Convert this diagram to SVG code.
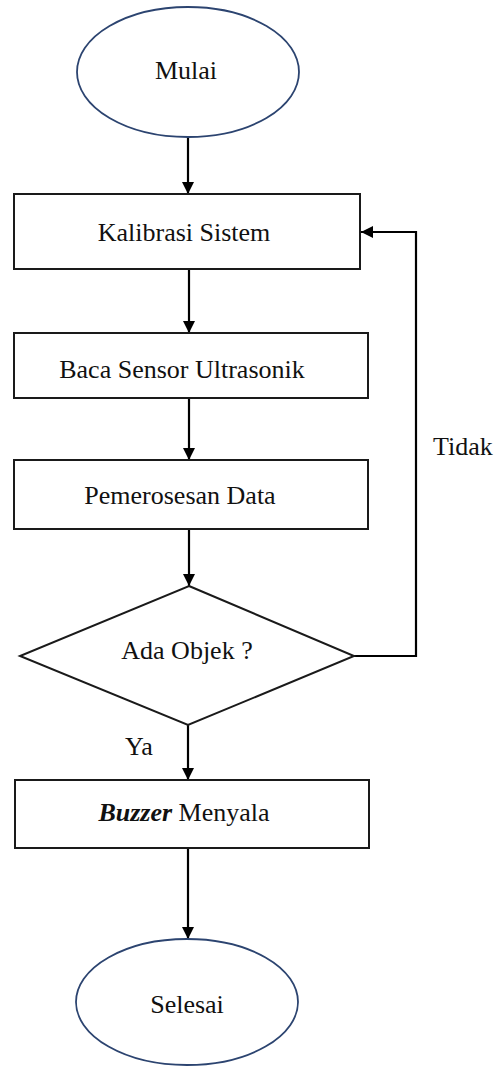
<svg xmlns="http://www.w3.org/2000/svg" width="494" height="1066" viewBox="0 0 494 1066">
<style>
.t{font-size:26px;fill:#111;text-anchor:middle}
.box{fill:#fff;stroke:#1a1a1a;stroke-width:2}
.ell{fill:#fff;stroke:#2c4470;stroke-width:1.8}
.c{fill:none;stroke:#000;stroke-width:2.2}
</style>
<defs>
<marker id="ah" markerUnits="userSpaceOnUse" markerWidth="12" markerHeight="12" refX="12" refY="6" orient="auto">
<path d="M0,0 L12,6 L0,12 z" fill="#000"/>
</marker>
</defs>
<rect width="494" height="1066" fill="#fff"/>
<g font-family="'Liberation Serif', 'DejaVu Serif', serif">
<g id="connectors">
<line class="c" x1="188" y1="137" x2="188" y2="194" marker-end="url(#ah)"/>
<line class="c" x1="189" y1="269" x2="189" y2="333" marker-end="url(#ah)"/>
<line class="c" x1="189" y1="398" x2="189" y2="460" marker-end="url(#ah)"/>
<line class="c" x1="189" y1="529" x2="189" y2="586" marker-end="url(#ah)"/>
<line class="c" x1="188" y1="725" x2="188" y2="780" marker-end="url(#ah)"/>
<line class="c" x1="188" y1="848" x2="188" y2="939" marker-end="url(#ah)"/>
<polyline class="c" points="354,656 416,656 416,232 361,232" marker-end="url(#ah)"/>
<text class="t" x="433" y="455" style="text-anchor:start">Tidak</text>
<text class="t" x="125" y="755" style="text-anchor:start">Ya</text>
</g>
<g id="mulai">
<ellipse class="ell" cx="188" cy="72" rx="111" ry="65"/>
<text class="t" x="186" y="79">Mulai</text>
</g>
<g id="kalibrasi">
<rect class="box" x="14" y="194" width="346" height="75"/>
<text class="t" x="184" y="241">Kalibrasi Sistem</text>
</g>
<g id="baca">
<rect class="box" x="14" y="333" width="354" height="65"/>
<text class="t" x="182" y="378">Baca Sensor Ultrasonik</text>
</g>
<g id="pemerosesan">
<rect class="box" x="14" y="460" width="354" height="69"/>
<text class="t" x="180" y="504">Pemerosesan Data</text>
</g>
<g id="decision">
<polygon class="box" points="189,586 354,656 188,725 20,656"/>
<text class="t" x="187" y="659">Ada Objek ?</text>
</g>
<g id="buzzer">
<rect class="box" x="15" y="780" width="354" height="68"/>
<text class="t" x="184" y="821"><tspan font-weight="bold" font-style="italic">Buzzer</tspan> Menyala</text>
</g>
<g id="selesai">
<ellipse class="ell" cx="187" cy="1002" rx="111" ry="63"/>
<text class="t" x="187" y="1013">Selesai</text>
</g>
</g>
</svg>
